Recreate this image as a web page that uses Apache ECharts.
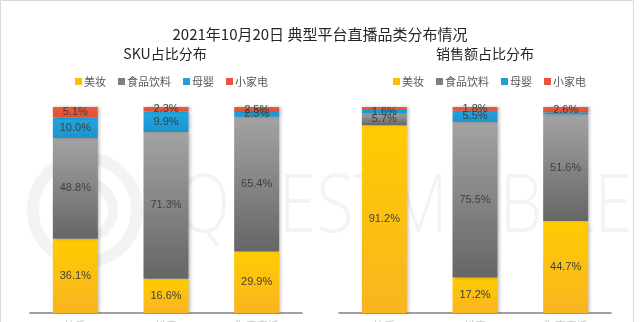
<!DOCTYPE html>
<html><head><meta charset="utf-8">
<script src="https://cdn.jsdelivr.net/npm/echarts@6/dist/echarts.min.js"></script>
<style>html,body{margin:0;padding:0;background:#fff}#c{width:640px;height:322px}</style>
</head><body><div id="c"></div>
<script>
const categories = ['快手', '抖音', '淘宝直播'];
const seriesNames = ['美妆', '食品饮料', '母婴', '小家电'];
// SKU share (%)
const skuBeauty = [36.1, 16.6, 29.9];
const skuFood = [48.8, 71.3, 65.4];
const skuBaby = [10.0, 9.9, 2.3];
const skuAppliance = [5.1, 2.3, 2.5];
// Sales share (%)
const salesBeauty = [91.2, 17.2, 44.7];
const salesFood = [5.7, 75.5, 51.6];
const salesBaby = [1.6, 5.5, 1.1];
const salesAppliance = [1.5, 1.8, 2.6];
// labels hidden in the original (overlapping tiny segments)
const salesBabyLabelShown = [true, true, false];
const salesApplianceLabelShown = [false, true, true];

const fonts = '"Noto Sans CJK SC", "Microsoft YaHei", sans-serif';
const colors = [
  {type:'linear',x:0,y:0,x2:0,y2:1,colorStops:[{offset:0,color:'#FFCC00'},{offset:1,color:'#F9B422'}]},
  {type:'linear',x:0,y:0,x2:0,y2:1,colorStops:[{offset:0,color:'#A3A3A3'},{offset:1,color:'#666666'}]},
  {type:'linear',x:0,y:0,x2:0,y2:1,colorStops:[{offset:0,color:'#22A7E0'},{offset:1,color:'#1B93CF'}]},
  {type:'linear',x:0,y:0,x2:0,y2:1,colorStops:[{offset:0,color:'#EE5B3B'},{offset:1,color:'#E04E35'}]}
];
const legendColors = ['#FFC000', '#7F7F7F', '#1FA0DA', '#E8563A'];

function mk(name, idx, values, axis, shown) {
  return {
    name: name, type: 'bar', stack: 's' + axis, xAxisIndex: axis, yAxisIndex: axis,
    barWidth: 45,
    itemStyle: {color: colors[idx], shadowColor: 'rgba(0,0,0,0.25)', shadowOffsetX: 2, shadowBlur: 3},
    label: {show: true, position: 'inside', color: '#404040', fontSize: 11, fontFamily: 'Arial, "Liberation Sans", sans-serif',
      formatter: p => p.value.toFixed(1) + '%'},
    data: values.map((v, i) => shown && !shown[i] ? {value: v, label: {show: false}} : v)
  };
}

const chart = echarts.init(document.getElementById('c'), null, {renderer: 'canvas'});
const xAxisBase = (gi) => ({
  type: 'category', gridIndex: gi, data: categories,
  axisLine: {lineStyle: {color: '#808080', width: 1.5}}, axisTick: {show: false},
  axisLabel: {color: '#cccccc', fontSize: 11, margin: 7, fontFamily: fonts}
});
const yAxisBase = (gi) => ({type: 'value', gridIndex: gi, min: 0, max: 100, show: false, splitLine: {show: false}});
const legendStyle = {itemWidth: 7, itemHeight: 7, itemGap: 12, icon: 'rect', top: 71,
  textStyle: {fontSize: 11, color: '#595959', fontFamily: fonts, padding: [0, 0, 0, -3]}};

chart.setOption({
  animation: false,
  backgroundColor: '#fff',
  graphic: [
    {type: 'rect', shape: {x: 0.5, y: 0.5, width: 633, height: 330}, style: {fill: 'none', stroke: '#d9d9d9', lineWidth: 1}, z: 100},
    {type: 'circle', shape: {cx: 85, cy: 210, r: 52}, style: {fill: 'none', stroke: '#f3f3f3', lineWidth: 12}, z: -10},
    {type: 'circle', shape: {cx: 85, cy: 210, r: 28}, style: {fill: 'none', stroke: '#f3f3f3', lineWidth: 10}, z: -10},
    {type: 'text', x: 178, y: 168, scaleY: 1.2, style: {text: 'QUESTMOBILE', fill: '#f3f3f3', font: '300 68px "Open Sans", sans-serif'}, z: -10}
  ],
  title: [
    {text: '2021年10月20日 典型平台直播品类分布情况', left: 'center', top: 22,
      textStyle: {fontSize: 15, fontWeight: 'normal', color: '#262626', fontFamily: fonts}},
    {text: 'SKU占比分布', left: 160, textAlign: 'center', top: 42,
      textStyle: {fontSize: 14, fontWeight: 'normal', color: '#262626', fontFamily: fonts}},
    {text: '销售额占比分布', left: 480, textAlign: 'center', top: 42,
      textStyle: {fontSize: 14, fontWeight: 'normal', color: '#262626', fontFamily: fonts}}
  ],
  legend: [
    Object.assign({data: seriesNames.map((n, i) => ({name: n, itemStyle: {color: legendColors[i]}})), left: 70}, legendStyle),
    Object.assign({data: seriesNames.map((n, i) => ({name: n, itemStyle: {color: legendColors[i]}})), left: 388, selectedMode: false}, legendStyle)
  ],
  grid: [
    {left: 30, width: 272, top: 107, height: 206, outerBoundsMode: 'none', containLabel: false},
    {left: 339, width: 272, top: 107, height: 206, outerBoundsMode: 'none', containLabel: false}
  ],
  xAxis: [xAxisBase(0), xAxisBase(1)],
  yAxis: [yAxisBase(0), yAxisBase(1)],
  series: [
    mk('美妆', 0, skuBeauty, 0), mk('食品饮料', 1, skuFood, 0), mk('母婴', 2, skuBaby, 0), mk('小家电', 3, skuAppliance, 0),
    mk('美妆', 0, salesBeauty, 1), mk('食品饮料', 1, salesFood, 1), mk('母婴', 2, salesBaby, 1, salesBabyLabelShown), mk('小家电', 3, salesAppliance, 1, salesApplianceLabelShown)
  ]
});
</script></body></html>
